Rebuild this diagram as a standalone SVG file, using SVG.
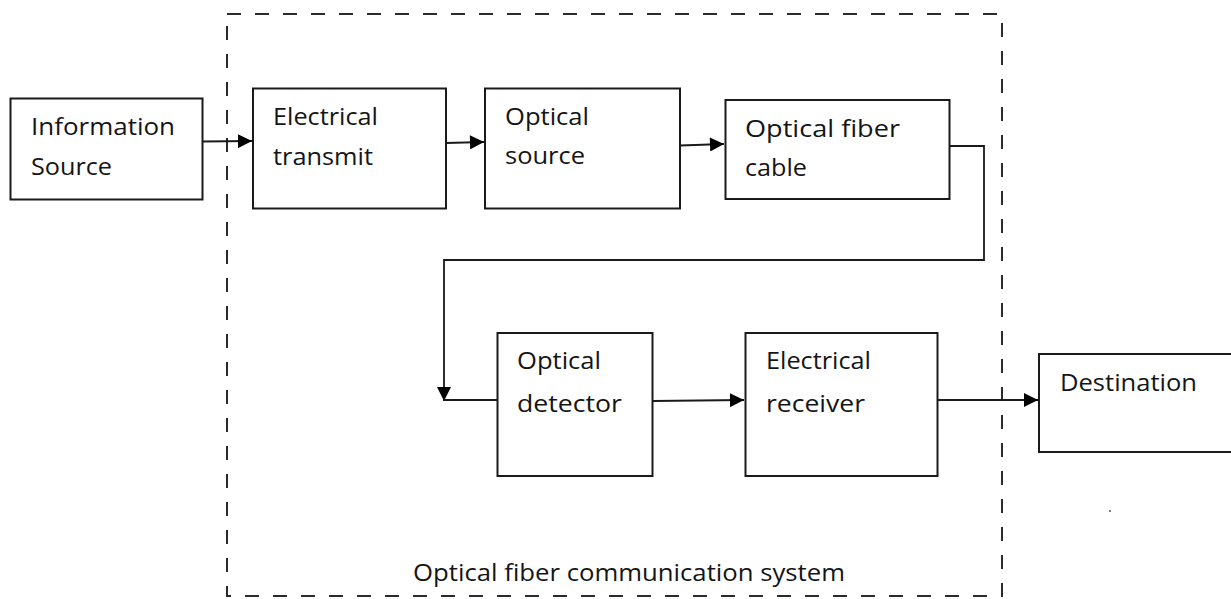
<svg xmlns="http://www.w3.org/2000/svg" width="1231" height="599" viewBox="0 0 1231 599">
<style>
.box{fill:#fff;stroke:#1a1a1a;stroke-width:2}
.t{font-family:"Open Sans","Liberation Sans",sans-serif;font-size:23px;fill:#151515}
.c{fill:none;stroke:#1a1a1a;stroke-width:1.8}
.frame{fill:none;stroke:#2a2a2a;stroke-width:2;stroke-dasharray:14 14}
</style>
<defs>
<marker id="ah" viewBox="0 0 10 10" refX="10" refY="5" markerWidth="16" markerHeight="14" markerUnits="userSpaceOnUse" orient="auto">
<path d="M0,0 L10,5 L0,10 Z" fill="#000"/>
</marker>
</defs>
<rect class="frame" x="227" y="14" width="775" height="582"/>
<g id="n-info"><rect class="box" x="10.5" y="98.5" width="192" height="101"/>
<text class="t" x="31" y="135" textLength="144" lengthAdjust="spacingAndGlyphs">Information</text>
<text class="t" x="31" y="175" textLength="81" lengthAdjust="spacingAndGlyphs">Source</text></g>
<g id="n-etx"><rect class="box" x="253" y="88.5" width="193" height="120"/>
<text class="t" x="273" y="125" textLength="105" lengthAdjust="spacingAndGlyphs">Electrical</text>
<text class="t" x="273" y="165" textLength="100" lengthAdjust="spacingAndGlyphs">transmit</text></g>
<g id="n-osrc"><rect class="box" x="485" y="88.5" width="195" height="120"/>
<text class="t" x="505" y="125" textLength="84" lengthAdjust="spacingAndGlyphs">Optical</text>
<text class="t" x="505" y="164" textLength="80" lengthAdjust="spacingAndGlyphs">source</text></g>
<g id="n-cable"><rect class="box" x="725.5" y="100" width="224" height="99"/>
<text class="t" x="745" y="137" textLength="155" lengthAdjust="spacingAndGlyphs">Optical fiber</text>
<text class="t" x="745" y="176" textLength="62" lengthAdjust="spacingAndGlyphs">cable</text></g>
<g id="n-det"><rect class="box" x="497.5" y="333" width="155" height="143"/>
<text class="t" x="517" y="369" textLength="84" lengthAdjust="spacingAndGlyphs">Optical</text>
<text class="t" x="517" y="412" textLength="105" lengthAdjust="spacingAndGlyphs">detector</text></g>
<g id="n-rx"><rect class="box" x="745.5" y="333" width="192" height="143"/>
<text class="t" x="766" y="369" textLength="105" lengthAdjust="spacingAndGlyphs">Electrical</text>
<text class="t" x="766" y="412" textLength="99" lengthAdjust="spacingAndGlyphs">receiver</text></g>
<g id="n-dest"><rect class="box" x="1039" y="354" width="193" height="98"/>
<text class="t" x="1060" y="391" textLength="137" lengthAdjust="spacingAndGlyphs">Destination</text></g>
<g id="frame-label"><text class="t" x="413" y="581" textLength="432" lengthAdjust="spacingAndGlyphs">Optical fiber communication system</text></g>
<g id="connectors">
<line class="c" x1="203" y1="141.5" x2="252" y2="141" marker-end="url(#ah)"/>
<line class="c" x1="446" y1="143" x2="484" y2="142" marker-end="url(#ah)"/>
<line class="c" x1="680" y1="145.5" x2="724" y2="144" marker-end="url(#ah)"/>
<polyline class="c" points="950,146 984,146 984,260 444,260 444,401" marker-end="url(#ah)"/>
<line class="c" x1="444" y1="400" x2="497" y2="400"/>
<line class="c" x1="653" y1="401" x2="744" y2="400" marker-end="url(#ah)"/>
<line class="c" x1="938" y1="400" x2="1038" y2="400" marker-end="url(#ah)"/>
</g>
<circle cx="1110" cy="511" r="0.9" fill="#444"/>
</svg>
